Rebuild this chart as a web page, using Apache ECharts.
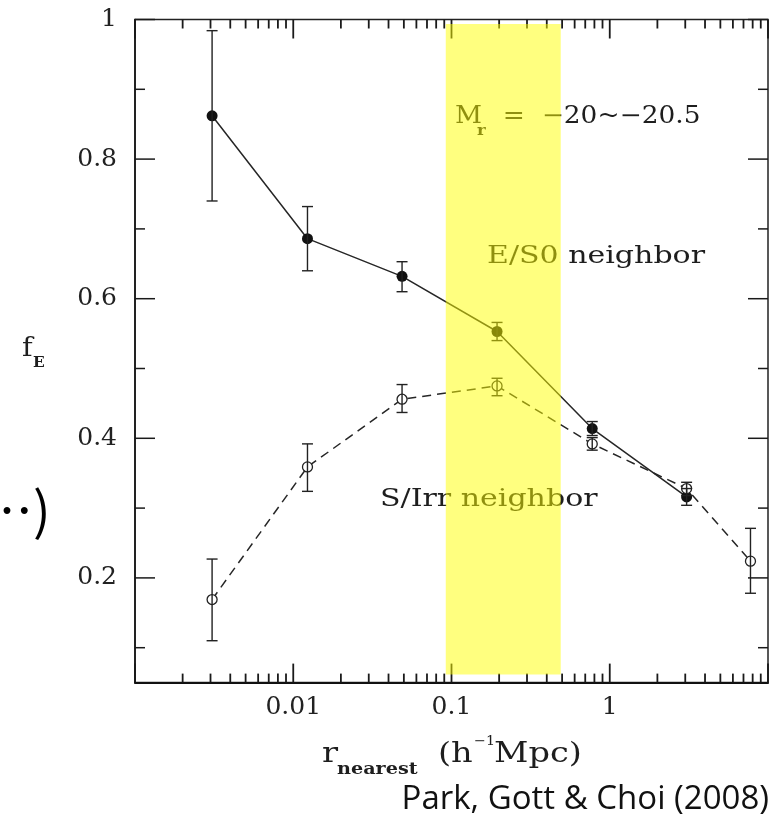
<!DOCTYPE html>
<html><head><meta charset="utf-8">
<script src="https://cdn.jsdelivr.net/npm/echarts@6/dist/echarts.min.js"></script>
<style>html,body{margin:0;padding:0;background:#fff}#c{width:771px;height:823px}</style>
</head><body><div id="c"></div>
<script>
// E/S0 neighbor (filled circles, solid line)
const rE = [0.00307, 0.0123, 0.0487, 0.194, 0.775, 3.06];
const fE_E = [0.862, 0.686, 0.632, 0.553, 0.414, 0.316];
const loE = [0.740, 0.640, 0.610, 0.540, 0.404, 0.304];
const hiE = [0.984, 0.732, 0.653, 0.566, 0.424, 0.328];
// S/Irr neighbor (open circles, dashed line)
const rS = [0.00307, 0.0123, 0.0487, 0.194, 0.775, 3.06, 7.75];
const fE_S = [0.169, 0.359, 0.456, 0.475, 0.392, 0.328, 0.224];
const loS = [0.110, 0.324, 0.437, 0.461, 0.383, 0.318, 0.178];
const hiS = [0.227, 0.392, 0.477, 0.486, 0.401, 0.337, 0.271];
// highlighted band
const bandX = [0.092, 0.49];
const bandY = [0.0615, 0.9936];
// axes
const xMin = 0.001, xMax = 10, yMin = 0.05, yMax = 1;
const xTickLabels = {'-2': '0.01', '-1': '0.1', '0': '1'};
const yTickLabels = {'20': '0.2', '40': '0.4', '60': '0.6', '80': '0.8', '100': '1'};
const xMajorTicks = [0.001, 0.01, 0.1, 1, 10];
const xMinorTicks = [0.002, 0.003, 0.004, 0.005, 0.006, 0.007, 0.008, 0.009,
                     0.02, 0.03, 0.04, 0.05, 0.06, 0.07, 0.08, 0.09,
                     0.2, 0.3, 0.4, 0.5, 0.6, 0.7, 0.8, 0.9,
                     2, 3, 4, 5, 6, 7, 8, 9];
const yMajorTicks = [0.2, 0.4, 0.6, 0.8, 1.0];
const yMinorTicks = [0.1, 0.3, 0.5, 0.7, 0.9];

const serif = 'DejaVu Serif';
const ink = '#1e1e1e';
const tickColor = '#1a1a1a';

const chart = echarts.init(document.getElementById('c'), null, {renderer: 'canvas'});
const txt = (x, y, text, size, opts) => Object.assign({
  type: 'text', x: x, y: y, z: 1,
  style: Object.assign({text: text, fontFamily: serif, fontSize: size, fill: ink,
    textAlign: 'left', textVerticalAlign: 'middle'}, (opts && opts.style) || {})
}, (opts && opts.el) || {});

const textElements = [
  txt(455, 117, 'M', 24, {el: {scaleX: 1.1}}),
  txt(477, 131, 'r', 15, {el: {scaleX: 1.1}, style: {fontWeight: 'bold'}}),
  txt(486, 117, '  =  \u221220~\u221220.5', 24, {el: {scaleX: 1.1}}),
  txt(487, 256, 'E/S0 neighbor', 25, {el: {scaleX: 1.2}}),
  txt(380, 499, 'S/Irr neighbor', 25, {el: {scaleX: 1.2}}),
  txt(22, 349, 'f', 26, {el: {scaleX: 1.1}}),
  txt(33, 363, 'E', 14, {el: {scaleX: 1.1}, style: {fontWeight: 'bold'}}),
  txt(322, 755, 'r', 28, {el: {scaleX: 1.2}}),
  txt(337, 770, 'nearest', 16, {el: {scaleX: 1.2}, style: {fontWeight: 'bold'}}),
  txt(438, 755, '(h', 28, {el: {scaleX: 1.2}}),
  txt(474, 742, '\u22121', 13, {el: {scaleX: 1.1}}),
  txt(494, 755, 'Mpc)', 28, {el: {scaleX: 1.2}}),
  {type: 'text', x: 769, y: 800, z: 1, style: {text: 'Park, Gott & Choi (2008)',
    fontFamily: 'Open Sans', fontSize: 33, fill: '#111', textAlign: 'right', textVerticalAlign: 'middle'}},
  {type: 'text', x: -19, y: 510, z: 1, style: {text: '\u2026)',
    fontFamily: 'Noto Sans CJK KR', fontSize: 52, fill: '#000', textAlign: 'left', textVerticalAlign: 'middle'}}
];

chart.setOption({
  animation: false,
  grid: {left: 135, right: -2, top: 19.5, bottom: 140.4, show: true,
    borderColor: '#222', borderWidth: 1.5},
  xAxis: {
    type: 'log', logBase: 10, min: xMin, max: xMax,
    axisLine: {show: true, onZero: false, lineStyle: {color: '#111', width: 2}},
    axisTick: {show: false}, minorTick: {show: false}, splitLine: {show: false},
    axisLabel: {
      formatter: v => xTickLabels[String(Math.round(Math.log10(v)))] || '',
      fontFamily: serif, fontSize: 25, color: '#222', margin: 12
    }
  },
  yAxis: {
    type: 'value', min: yMin, max: yMax, interval: 0.05,
    axisLine: {show: true, lineStyle: {color: '#111', width: 1.5}},
    axisTick: {show: false}, splitLine: {show: false},
    axisLabel: {
      formatter: v => yTickLabels[String(Math.round(v * 100))] || '',
      fontFamily: serif, fontSize: 25, color: '#222', margin: 18
    }
  },
  series: [
    {
      type: 'line', name: 'E/S0 neighbor', z: 2,
      data: rE.map((x, i) => [x, fE_E[i]]),
      symbol: 'circle', symbolSize: 11,
      itemStyle: {color: '#111'},
      lineStyle: {color: '#262626', width: 1.5}
    },
    {
      type: 'line', name: 'S/Irr neighbor', z: 2,
      data: rS.map((x, i) => [x, fE_S[i]]),
      symbol: 'circle', symbolSize: 10,
      itemStyle: {color: '#fff', borderColor: '#222', borderWidth: 1.3},
      lineStyle: {color: '#262626', width: 1.5, type: [9, 6]}
    },
    {
      type: 'custom', name: 'errors', z: 3, silent: true,
      data: rE.map((x, i) => [x, loE[i], hiE[i]]).concat(rS.map((x, i) => [x, loS[i], hiS[i]])),
      renderItem: (params, api) => {
        const x = api.value(0);
        const p1 = api.coord([x, api.value(1)]), p2 = api.coord([x, api.value(2)]);
        const w = 5.5;
        return {type: 'group', children: [
          {type: 'line', shape: {x1: p1[0], y1: p1[1], x2: p2[0], y2: p2[1]}, style: {stroke: '#222', lineWidth: 1.4}},
          {type: 'line', shape: {x1: p1[0] - w, y1: p1[1], x2: p1[0] + w, y2: p1[1]}, style: {stroke: '#222', lineWidth: 1.4}},
          {type: 'line', shape: {x1: p2[0] - w, y1: p2[1], x2: p2[0] + w, y2: p2[1]}, style: {stroke: '#222', lineWidth: 1.4}}
        ]};
      }
    },
    {
      type: 'custom', name: 'band', z: 10, silent: true,
      data: [[bandX[0], bandY[0], bandX[1], bandY[1]]],
      renderItem: (params, api) => {
        const a = api.coord([api.value(0), api.value(1)]);
        const b = api.coord([api.value(2), api.value(3)]);
        return {type: 'rect', shape: {x: a[0], y: b[1], width: b[0] - a[0], height: a[1] - b[1]},
          style: {fill: 'rgba(255,255,0,0.5)'}};
      }
    }
  ]
});

// frame ticks (inward on all four sides), placed through the chart's own scales
const tickEls = [];
const toPx = (p) => chart.convertToPixel({gridIndex: 0}, p);
const addX = (v, L) => {
  const b = toPx([v, yMin]), t = toPx([v, yMax]);
  tickEls.push({type: 'line', z: 4, silent: true, shape: {x1: b[0], y1: b[1], x2: b[0], y2: b[1] - L}, style: {stroke: tickColor, lineWidth: 1.8}});
  tickEls.push({type: 'line', z: 4, silent: true, shape: {x1: t[0], y1: t[1], x2: t[0], y2: t[1] + L}, style: {stroke: tickColor, lineWidth: 1.8}});
};
const addY = (v, L) => {
  const l = toPx([xMin, v]), r = toPx([xMax, v]);
  tickEls.push({type: 'line', z: 4, silent: true, shape: {x1: l[0], y1: l[1], x2: l[0] + L, y2: l[1]}, style: {stroke: tickColor, lineWidth: 1.5}});
  tickEls.push({type: 'line', z: 4, silent: true, shape: {x1: r[0], y1: r[1], x2: r[0] - L, y2: r[1]}, style: {stroke: tickColor, lineWidth: 1.5}});
};
xMajorTicks.forEach(v => addX(v, 19));
xMinorTicks.forEach(v => addX(v, 9));
yMajorTicks.forEach(v => addY(v, 20));
yMinorTicks.forEach(v => addY(v, 10));
chart.setOption({graphic: textElements.concat(tickEls)});
</script>
</body></html>
